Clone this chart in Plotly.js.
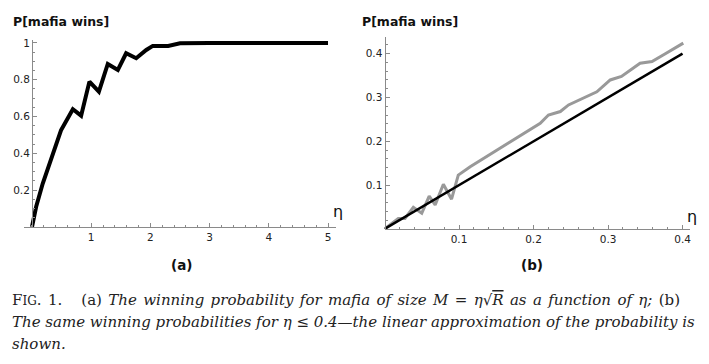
<!DOCTYPE html>
<html><head><meta charset="utf-8">
<script src="https://cdn.plot.ly/plotly-3.0.1.min.js"></script>
<style>html,body{margin:0;padding:0;background:#fff}</style>
</head><body><div id="chart" style="width:709px;height:364px"></div>
<script>
// Panel (a): winning probability vs eta
const etaA = [0, 0.07, 0.18, 0.3, 0.41, 0.49, 0.69, 0.83, 0.97, 1.13, 1.28, 1.45, 1.59, 1.76, 1.93, 2.04, 2.3, 2.5, 3.0, 5.0];
const winA = [0, 0.11, 0.235, 0.345, 0.445, 0.525, 0.64, 0.605, 0.79, 0.735, 0.886, 0.853, 0.944, 0.917, 0.962, 0.984, 0.984, 0.998, 1.0, 1.0];
// Panel (b): simulated probability (grey) for eta <= 0.4
const etaB = [0, 0.0185, 0.0275, 0.0387, 0.05, 0.06, 0.068, 0.079, 0.09, 0.099, 0.115, 0.133, 0.151, 0.168, 0.191, 0.209, 0.22, 0.236, 0.247, 0.262, 0.285, 0.303, 0.318, 0.343, 0.359, 0.374, 0.401];
const winB = [0, 0.024, 0.024, 0.0495, 0.036, 0.075, 0.055, 0.102, 0.068, 0.123, 0.142, 0.161, 0.18, 0.199, 0.222, 0.241, 0.26, 0.268, 0.283, 0.295, 0.313, 0.34, 0.348, 0.378, 0.382, 0.397, 0.424];
// Panel (b): linear approximation (black)
const etaLin = [0, 0.4];
const winLin = [0, 0.4];
// Tick labels
const xTicksA = [1, 2, 3, 4, 5];
const yTicksA = [0.2, 0.4, 0.6, 0.8, 1];
const xTicksB = [0.1, 0.2, 0.3, 0.4];
const yTicksB = [0.1, 0.2, 0.3, 0.4];

const W = 709, H = 364;
const px = v => v / W, py = v => 1 - v / H;
const axisColor = '#8a8a8a';
const tickFont = {family: 'DejaVu Sans, sans-serif', size: 10.5, color: '#222'};

function ax(extra) {
  return Object.assign({
    showline: true, linecolor: axisColor, linewidth: 1.2,
    showgrid: false, zeroline: false,
    ticks: 'inside', ticklen: 4, tickcolor: axisColor, tickwidth: 1,
    tickmode: 'array', tickfont: tickFont, fixedrange: true
  }, extra);
}

const traces = [
  {x: etaA, y: winA, xaxis: 'x', yaxis: 'y', mode: 'lines', line: {color: '#000', width: 4}, hoverinfo: 'skip'},
  {x: etaB, y: winB, xaxis: 'x2', yaxis: 'y2', mode: 'lines', line: {color: '#999', width: 3}, hoverinfo: 'skip'},
  {x: etaLin, y: winLin, xaxis: 'x2', yaxis: 'y2', mode: 'lines', line: {color: '#000', width: 2.5}, hoverinfo: 'skip'}
];

const titleFont = {family: 'DejaVu Sans, sans-serif', size: 12.5, color: '#111'};
const capFont = {family: 'DejaVu Serif, serif', size: 15, color: '#222'};
const sc = s => "<span style='font-size:12px'>" + s + "</span>";

const layout = {
  width: W, height: H, margin: {l: 0, r: 0, t: 0, b: 0},
  paper_bgcolor: '#fff', plot_bgcolor: 'rgba(0,0,0,0)', showlegend: false,
  xaxis: ax({domain: [px(24), px(336)], range: [-0.135, 5.135], anchor: 'free', position: py(227),
    tickvals: xTicksA, ticktext: xTicksA.map(String),
    minor: {dtick: 0.2, tick0: 0, ticks: 'inside', ticklen: 2, tickcolor: axisColor}}),
  yaxis: ax({domain: [py(227), py(40)], range: [0, 1.016], anchor: 'free', position: px(32),
    tickvals: yTicksA, ticktext: yTicksA.map(String),
    minor: {dtick: 0.05, tick0: 0, ticks: 'inside', ticklen: 2, tickcolor: axisColor}}),
  xaxis2: ax({domain: [px(384.5), px(690)], range: [0, 0.41], anchor: 'free', position: py(229),
    tickvals: xTicksB, ticktext: xTicksB.map(String),
    minor: {dtick: 0.02, tick0: 0, ticks: 'inside', ticklen: 2, tickcolor: axisColor}}),
  yaxis2: ax({domain: [py(229), py(37)], range: [0, 0.438], anchor: 'free', position: px(384.5),
    tickvals: yTicksB, ticktext: yTicksB.map(String),
    minor: {dtick: 0.02, tick0: 0, ticks: 'inside', ticklen: 2, tickcolor: axisColor}}),
  annotations: [
    {text: '<b>P[mafia wins]</b>', xref: 'paper', yref: 'paper', x: px(11), y: py(21), xanchor: 'left', yanchor: 'middle', showarrow: false, font: titleFont},
    {text: '<b>P[mafia wins]</b>', xref: 'paper', yref: 'paper', x: px(360), y: py(21), xanchor: 'left', yanchor: 'middle', showarrow: false, font: titleFont},
    {text: 'η', xref: 'paper', yref: 'paper', x: px(338), y: py(211), xanchor: 'center', yanchor: 'middle', showarrow: false, font: {family: 'DejaVu Sans, sans-serif', size: 16, color: '#111'}},
    {text: 'η', xref: 'paper', yref: 'paper', x: px(692), y: py(216), xanchor: 'center', yanchor: 'middle', showarrow: false, font: {family: 'DejaVu Sans, sans-serif', size: 16, color: '#111'}},
    {text: '<b>(a)</b>', xref: 'paper', yref: 'paper', x: px(181), y: py(265), xanchor: 'center', yanchor: 'middle', showarrow: false, font: {family: 'DejaVu Sans, sans-serif', size: 13.5, color: '#111'}},
    {text: '<b>(b)</b>', xref: 'paper', yref: 'paper', x: px(532), y: py(265), xanchor: 'center', yanchor: 'middle', showarrow: false, font: {family: 'DejaVu Sans, sans-serif', size: 13.5, color: '#111'}},
    {text: '<span style="word-spacing:1.6px">F' + sc('IG') + '. 1.\u00a0\u00a0 (a) <i>The winning probability for mafia of size M\u00a0=\u00a0η√<span style="text-decoration:overline">R</span> as a function of η;</i> (b)</span>',
     xref: 'paper', yref: 'paper', x: px(10), y: py(300), xanchor: 'left', yanchor: 'middle', showarrow: false, font: capFont},
    {text: '<i>The same winning probabilities for η\u00a0≤\u00a00.4—the linear approximation of the probability is</i>',
     xref: 'paper', yref: 'paper', x: px(10), y: py(322), xanchor: 'left', yanchor: 'middle', showarrow: false, font: capFont},
    {text: '<i>shown.</i>',
     xref: 'paper', yref: 'paper', x: px(10), y: py(344), xanchor: 'left', yanchor: 'middle', showarrow: false, font: capFont}
  ]
};

Plotly.newPlot('chart', traces, layout, {staticPlot: true, displayModeBar: false});
</script></body></html>
